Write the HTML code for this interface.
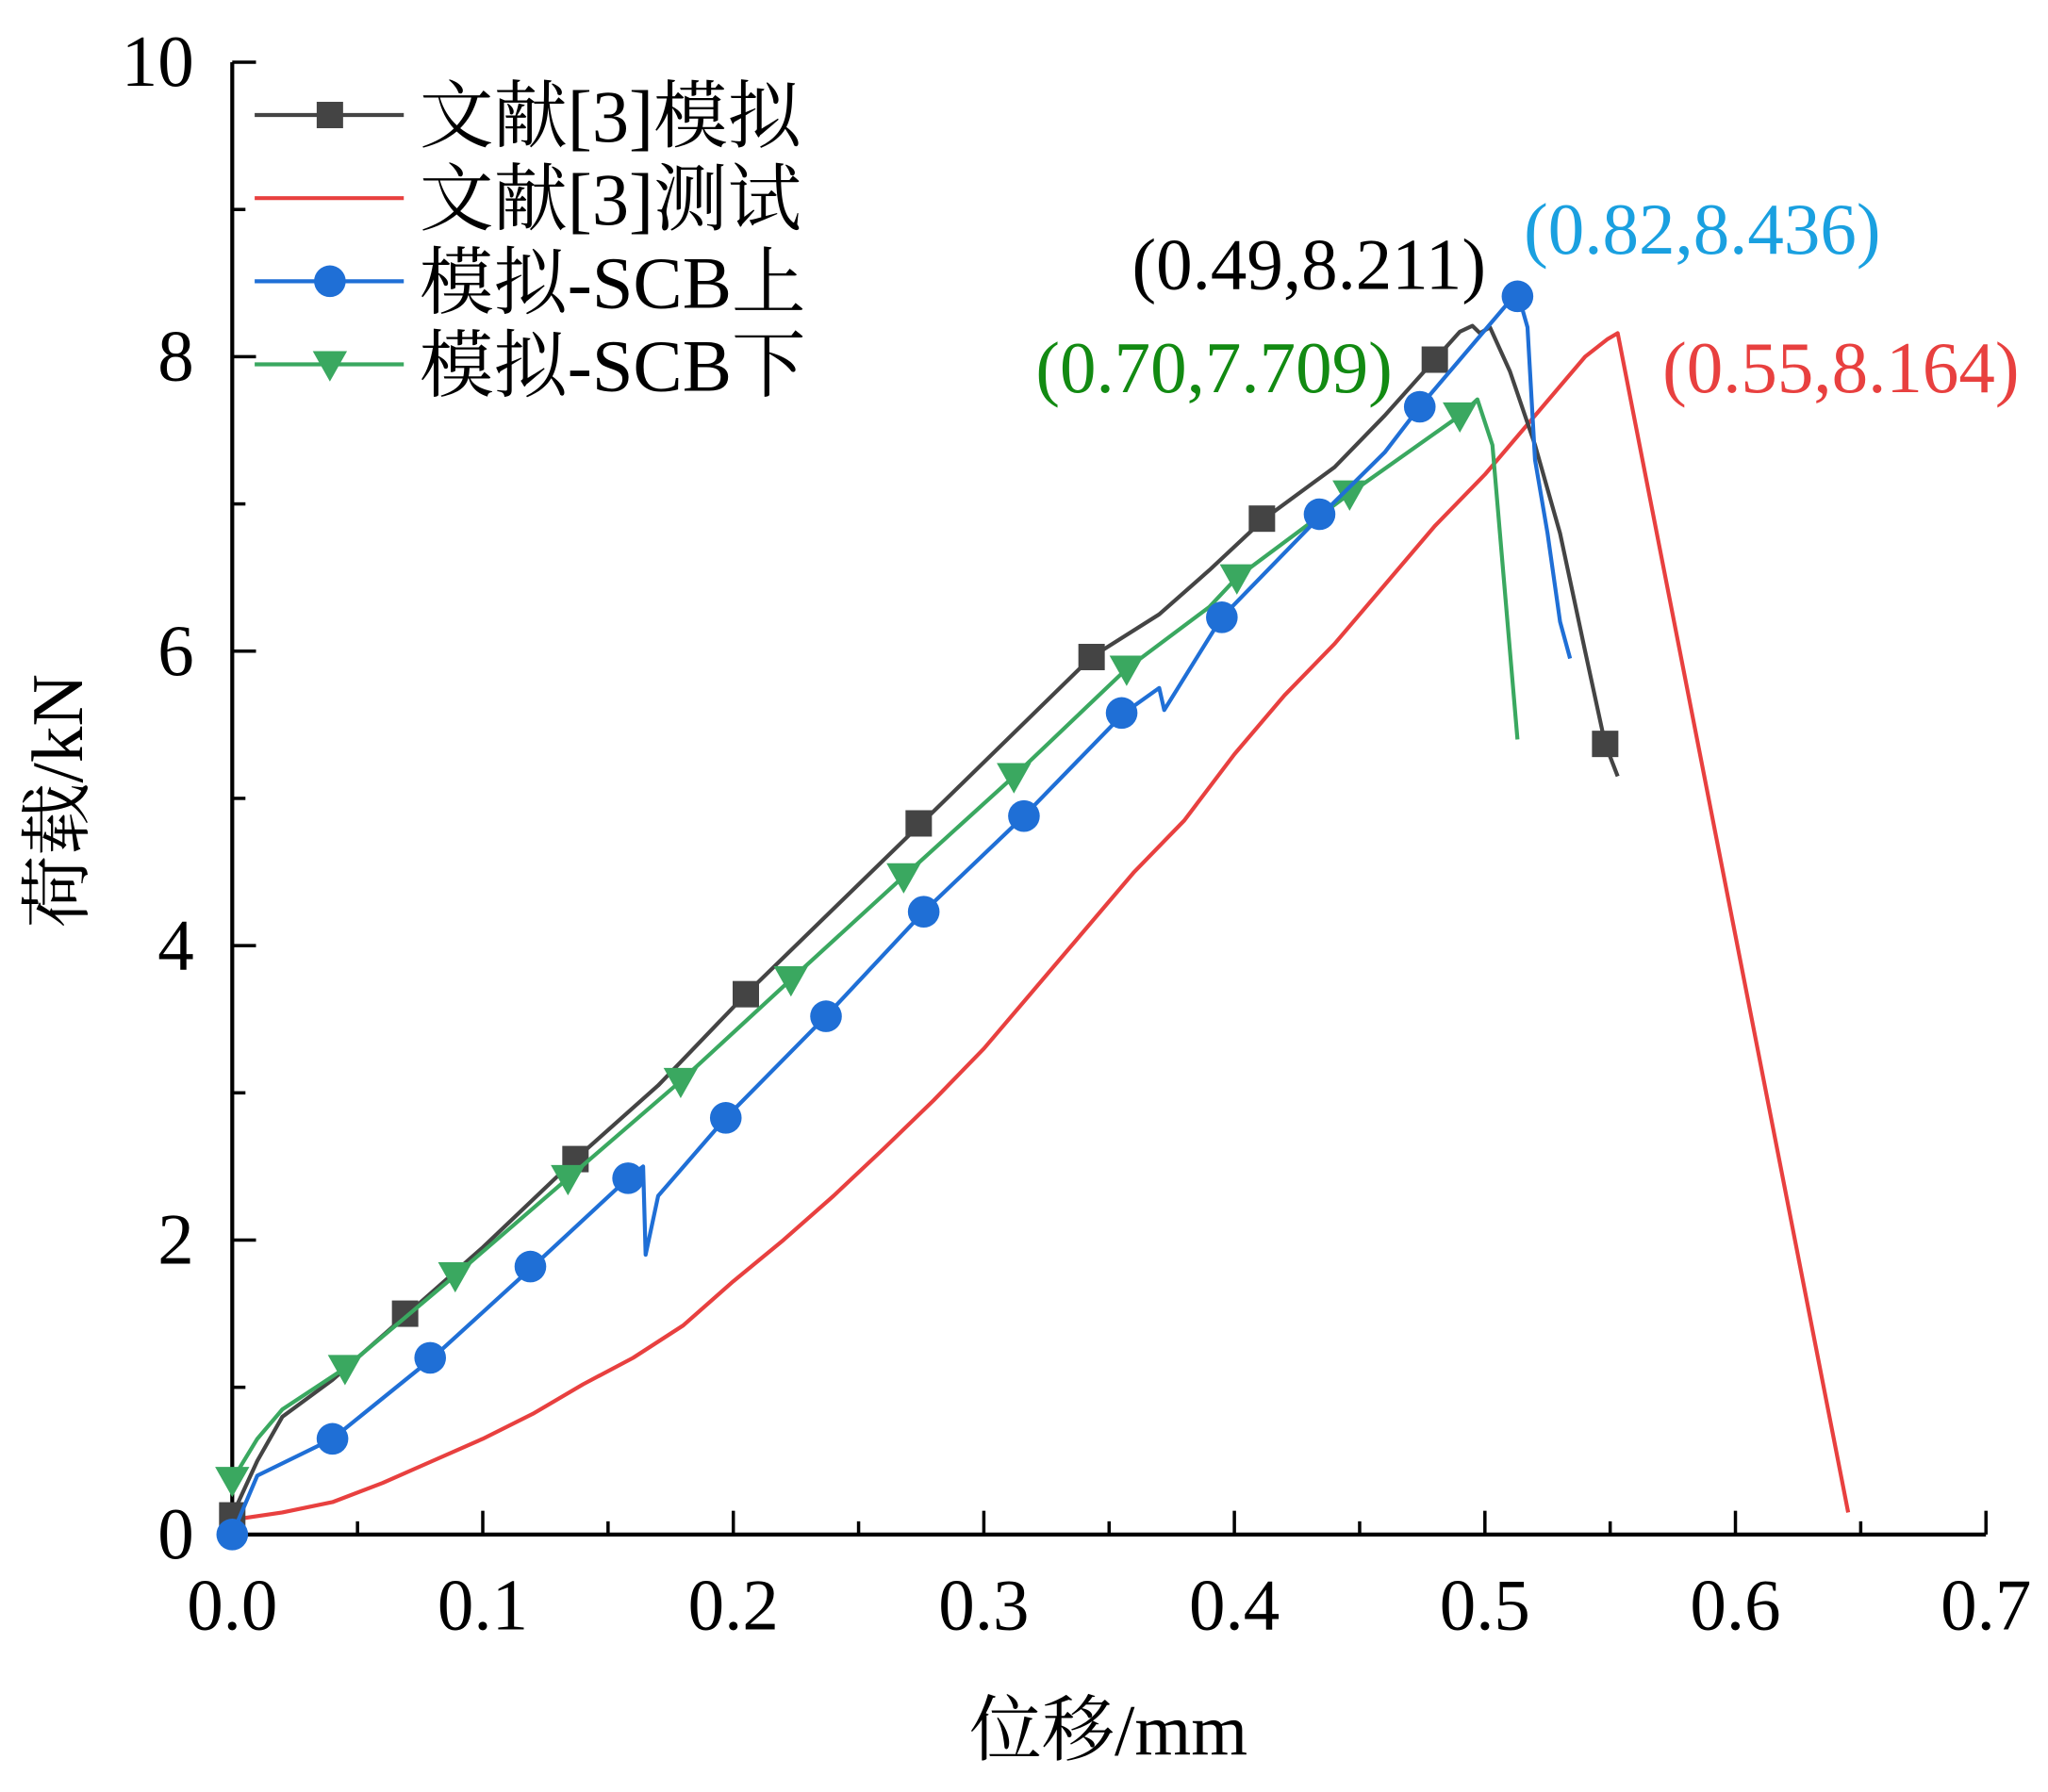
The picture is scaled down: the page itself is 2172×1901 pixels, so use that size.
<!DOCTYPE html>
<html><head><meta charset="utf-8"><style>html,body{margin:0;padding:0;background:#fff}svg{display:block}</style></head>
<body>
<svg id="chart" width="2172" height="1901" viewBox="0 0 1552 1358" xmlns="http://www.w3.org/2000/svg" font-family="'Liberation Serif','Noto Serif CJK SC',serif">
<g id="axes"></g>
<g id="series"></g>
<g id="legend"></g>
</svg>
<script>
const blackX=[0,0.01,0.02,0.04,0.07,0.1,0.137,0.17,0.205,0.275,0.343,0.37,0.39,0.412,0.44,0.46,0.48,0.49,0.495,0.498,0.502,0.51,0.52,0.53,0.54,0.548,0.553];
const blackY=[0.13,0.5,0.8,1.05,1.5,1.95,2.55,3.05,3.67,4.83,5.96,6.25,6.55,6.9,7.25,7.6,7.98,8.17,8.21,8.16,8.2,7.9,7.4,6.8,6.0,5.37,5.15];
const blackMX=[0,0.069,0.137,0.205,0.274,0.343,0.411,0.48,0.548];
const blackMY=[0.13,1.5,2.55,3.67,4.83,5.96,6.9,7.98,5.37];
const redX=[0,0.02,0.04,0.06,0.08,0.1,0.12,0.14,0.16,0.18,0.2,0.22,0.24,0.26,0.28,0.3,0.32,0.34,0.36,0.38,0.4,0.42,0.44,0.46,0.48,0.5,0.52,0.54,0.549,0.553,0.645];
const redY=[0.1,0.15,0.22,0.35,0.5,0.65,0.82,1.02,1.2,1.42,1.72,2.0,2.3,2.62,2.95,3.3,3.7,4.1,4.5,4.85,5.3,5.7,6.05,6.45,6.85,7.2,7.6,8.0,8.12,8.16,0.15];
const blueX=[0,0.01,0.04,0.08,0.12,0.158,0.164,0.165,0.17,0.197,0.237,0.276,0.316,0.356,0.37,0.372,0.395,0.435,0.46,0.474,0.513,0.517,0.52,0.525,0.53,0.534];
const blueY=[0,0.4,0.65,1.2,1.82,2.42,2.5,1.9,2.3,2.83,3.52,4.23,4.88,5.58,5.75,5.6,6.23,6.93,7.35,7.66,8.44,8.2,7.3,6.8,6.2,5.95];
const blueMX=[0,0.04,0.079,0.119,0.158,0.197,0.237,0.276,0.316,0.355,0.395,0.434,0.474,0.513];
const blueMY=[0,0.65,1.2,1.82,2.42,2.83,3.52,4.23,4.88,5.58,6.23,6.93,7.66,8.41];
const greenX=[0,0.01,0.02,0.045,0.089,0.134,0.179,0.223,0.268,0.312,0.357,0.39,0.401,0.446,0.49,0.497,0.503,0.505,0.51,0.513];
const greenY=[0.37,0.65,0.85,1.13,1.76,2.42,3.08,3.77,4.47,5.15,5.88,6.3,6.5,7.07,7.6,7.71,7.4,7.0,6.0,5.4];
const greenMX=[0,0.045,0.089,0.134,0.179,0.223,0.268,0.312,0.357,0.401,0.446,0.49];
const greenMY=[0.37,1.13,1.76,2.42,3.08,3.77,4.47,5.15,5.88,6.5,7.07,7.6];
const xTicks=[0,0.1,0.2,0.3,0.4,0.5,0.6,0.7];
const xTickLabels=["0.0","0.1","0.2","0.3","0.4","0.5","0.6","0.7"];
const yTicks=[0,2,4,6,8,10];
const yTickLabels=["0","2","4","6","8","10"];

const NS="http://www.w3.org/2000/svg";
const X0=176,X1=1505,Y0=1163,Y1=47;
const sx=v=>X0+v/0.7*(X1-X0);
const sy=v=>Y0-v/10*(Y0-Y1);
function mk(tag,attrs,parent,txt){const e=document.createElementNS(NS,tag);for(const k in attrs)e.setAttribute(k,attrs[k]);if(txt!==undefined)e.textContent=txt;parent.appendChild(e);return e;}
const axes=document.getElementById('axes');
let a=mk('line',{x1:X0,y1:Y0,x2:X1,y2:Y0,stroke:'#000','stroke-width':3},axes);


a=mk('line',{x1:X0,y1:Y0,x2:X0,y2:Y1,stroke:'#000','stroke-width':3},axes);


for(let i=0;i<xTicks.length;i++){
  const x=sx(xTicks[i]);
  mk('line',{x1:x,y1:Y0,x2:x,y2:Y0-18,stroke:'#000','stroke-width':2.5},axes);
  if(i<xTicks.length-1){const xm=sx(xTicks[i]+0.05);mk('line',{x1:xm,y1:Y0,x2:xm,y2:Y0-10,stroke:'#000','stroke-width':2.5},axes);}
  const t=mk('text',{x:x,y:Y0+72,'text-anchor':'middle','font-size':55},axes,xTickLabels[i]);
  
  
}
for(let i=0;i<yTicks.length;i++){
  const y=sy(yTicks[i]);
  mk('line',{x1:X0,y1:y,x2:X0+18,y2:y,stroke:'#000','stroke-width':2.5},axes);
  if(i<yTicks.length-1){const ym=sy(yTicks[i]+1);mk('line',{x1:X0,y1:ym,x2:X0+10,y2:ym,stroke:'#000','stroke-width':2.5},axes);}
  const t=mk('text',{x:X0-29,y:y+18,'text-anchor':'end','font-size':55},axes,yTickLabels[i]);
  
  
}
let t=mk('text',{x:840,y:1330,'text-anchor':'middle','font-size':55},axes,'位移/mm');


t=mk('text',{x:0,y:0,'text-anchor':'middle','font-size':55,transform:'translate(62,607) rotate(-90)'},axes,'荷载/kN');



const ser=document.getElementById('series');
function line(xs,ys,color,name){
  const p=mk('polyline',{points:xs.map((x,i)=>sx(x)+','+sy(ys[i])).join(' '),fill:'none',stroke:color,'stroke-width':3,'stroke-linejoin':'round'},ser);
  
  
}
function markers(xs,ys,color,shape,name){
  for(let i=0;i<xs.length;i++){
    const x=sx(xs[i]),y=sy(ys[i]);let m;
    if(shape==='sq')m=mk('rect',{x:x-10,y:y-10,width:20,height:20,fill:color},ser);
    else if(shape==='c')m=mk('circle',{cx:x,cy:y,r:12,fill:color},ser);
    else m=mk('polygon',{points:`${x-13},${y-10} ${x+13},${y-10} ${x},${y+13}`,fill:color},ser);
    
    
  }
}
line(redX,redY,'#e8403f','series-test-ref3');
line(blackX,blackY,'#444','series-sim-ref3');
markers(blackMX,blackMY,'#444','sq','marker-sim-ref3');
line(greenX,greenY,'#3aa860','series-sim-scb-lower');
markers(greenMX,greenMY,'#3aa860','tri','marker-sim-scb-lower');
line(blueX,blueY,'#1f6fd6','series-sim-scb-upper');
markers(blueMX,blueMY,'#1f6fd6','c','marker-sim-scb-upper');

const ann=[[992,219,'#000','(0.49,8.211)'],[1290,192,'#1aa0e0','(0.82,8.436)'],[920,297,'#128a12','(0.70,7.709)'],[1395,297,'#e8403f','(0.55,8.164)']];
for(const a2 of ann){const e=mk('text',{x:a2[0],y:a2[1],'text-anchor':'middle','font-size':55,fill:a2[2]},ser,a2[3]);
  
  }

const leg=document.getElementById('legend');
const items=[['文献[3]模拟','#444','sq'],['文献[3]测试','#e8403f',''],['模拟-SCB上','#1f6fd6','c'],['模拟-SCB下','#3aa860','tri']];
items.forEach((it,i)=>{
  const y=87+i*63;
  const g=mk('g',{},leg);
  
  
  mk('line',{x1:193,y1:y,x2:306,y2:y,stroke:it[1],'stroke-width':3},g);
  const x=250;
  if(it[2]==='sq')mk('rect',{x:x-10,y:y-10,width:20,height:20,fill:it[1]},g);
  else if(it[2]==='c')mk('circle',{cx:x,cy:y,r:12,fill:it[1]},g);
  else if(it[2]==='tri')mk('polygon',{points:`${x-13},${y-10} ${x+13},${y-10} ${x},${y+13}`,fill:it[1]},g);
  mk('text',{x:318,y:y+20,'font-size':56},g,it[0]);
});
</script>
</body></html>
